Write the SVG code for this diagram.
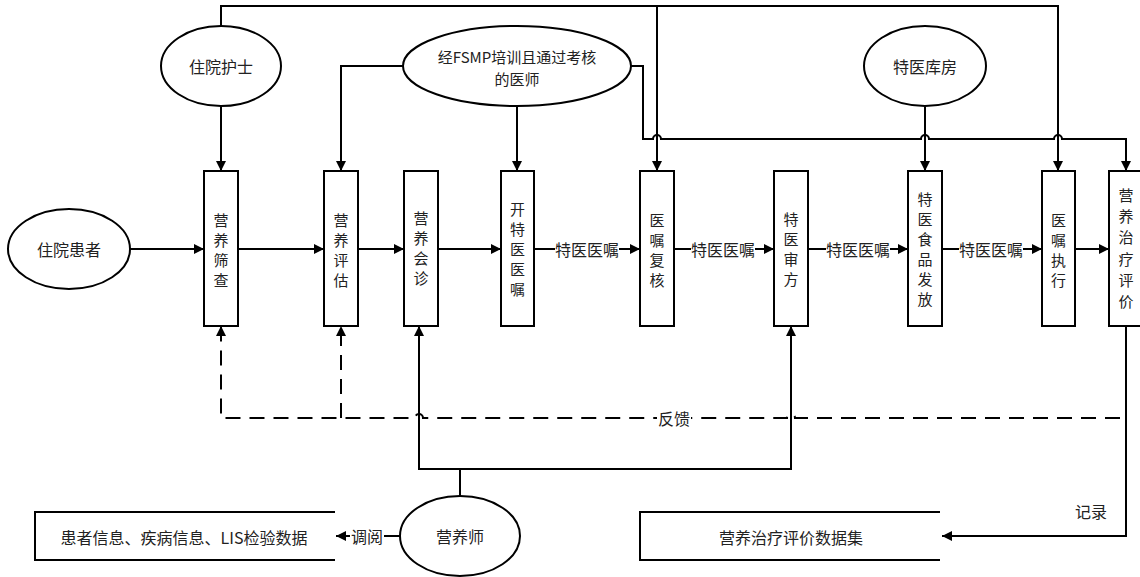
<svg xmlns="http://www.w3.org/2000/svg" width="1140" height="577" viewBox="0 0 1140 577">
<style>
.n{fill:#fff;stroke:#000;stroke-width:2}
.t{font-family:"Noto Sans CJK SC","Liberation Sans",sans-serif;font-size:16px;fill:#222;text-anchor:middle;dominant-baseline:central}
.v{font-size:15px}
.c{fill:none;stroke:#000;stroke-width:2}
.d{fill:none;stroke:#000;stroke-width:2;stroke-dasharray:15 9}
.lb{fill:#fff}
</style>
<defs>
<marker id="a" viewBox="0 0 10 10" refX="10" refY="5" markerWidth="11" markerHeight="10" markerUnits="userSpaceOnUse" orient="auto"><path d="M0,0 L10,5 L0,10 z" fill="#000"/></marker>
</defs>

<g id="connectors">
<path class="c" d="M130,249 H204" marker-end="url(#a)"/>
<path class="c" d="M238,249 H324" marker-end="url(#a)"/>
<path class="c" d="M358,249 H404" marker-end="url(#a)"/>
<path class="c" d="M438,249 H501" marker-end="url(#a)"/>
<path class="c" d="M534,249 H640" marker-end="url(#a)"/>
<path class="c" d="M674,249 H774" marker-end="url(#a)"/>
<path class="c" d="M808,249 H908" marker-end="url(#a)"/>
<path class="c" d="M942,249 H1042" marker-end="url(#a)"/>
<path class="c" d="M1075,249 H1109" marker-end="url(#a)"/>
<path class="c" d="M221,106 V171" marker-end="url(#a)"/>
<path class="c" d="M221,26 V6 H1058 V171" marker-end="url(#a)"/>
<path class="c" d="M657,6 V171" marker-end="url(#a)"/>
<path class="c" d="M403,66 H341 V171" marker-end="url(#a)"/>
<path class="c" d="M517,107 V171" marker-end="url(#a)"/>
<path class="c" d="M631,66 H643 V139 H653 A4,4 0 0 1 661,139 H921 A4,4 0 0 1 929,139 H1054 A4,4 0 0 1 1062,139 H1126 V171" marker-end="url(#a)"/>
<path class="c" d="M925,107 V171" marker-end="url(#a)"/>
<path class="d" d="M1120,418 H795 A4,4 0 0 0 787,418 H423 A4,4 0 0 0 415,418 H221 V326" marker-end="url(#a)"/>
<path class="d" d="M341,418 V326" marker-end="url(#a)"/>
<path class="c" d="M460,496 V469"/>
<path class="c" d="M460,469 H419 V326" marker-end="url(#a)"/>
<path class="c" d="M460,469 H791 V326" marker-end="url(#a)"/>
<path class="c" d="M400,536 H336" marker-end="url(#a)"/>
<path class="c" d="M1126,325 V536 H942" marker-end="url(#a)"/>
<rect class="lb" x="555" y="239" width="64" height="20"/>
<text class="t" x="587" y="249">特医医嘱</text>
<rect class="lb" x="691" y="239" width="64" height="20"/>
<text class="t" x="723" y="249">特医医嘱</text>
<rect class="lb" x="826" y="239" width="64" height="20"/>
<text class="t" x="858" y="249">特医医嘱</text>
<rect class="lb" x="959" y="239" width="64" height="20"/>
<text class="t" x="991" y="249">特医医嘱</text>
<rect class="lb" x="350" y="526" width="34" height="20"/>
<text class="t" x="367" y="536">调阅</text>
<rect class="lb" x="657" y="408" width="34" height="20"/>
<text class="t" x="674" y="418">反馈</text>
<text class="t" x="1091" y="511">记录</text>
</g>

<g id="n-nurse"><ellipse class="n" cx="221" cy="66" rx="60" ry="40"/><text class="t" x="221" y="66">住院护士</text></g>
<g id="n-doctor"><ellipse class="n" cx="517" cy="66" rx="114" ry="40"/><text class="t v"><tspan x="517" y="55.5">经FSMP培训且通过考核</tspan><tspan x="517" y="77.5">的医师</tspan></text></g>
<g id="n-warehouse"><ellipse class="n" cx="925" cy="66" rx="61" ry="40"/><text class="t" x="925" y="66">特医库房</text></g>
<g id="n-patient"><ellipse class="n" cx="69" cy="249" rx="61" ry="40"/><text class="t" x="69" y="249">住院患者</text></g>
<g id="n-dietitian"><ellipse class="n" cx="460" cy="536" rx="60" ry="40"/><text class="t" x="460" y="536">营养师</text></g>

<g id="n-screen"><rect class="n" x="204" y="171" width="34" height="155"/><text class="t v"><tspan x="221" y="219">营</tspan><tspan x="221" y="239">养</tspan><tspan x="221" y="259">筛</tspan><tspan x="221" y="279">查</tspan></text></g>
<g id="n-assess"><rect class="n" x="324" y="171" width="34" height="155"/><text class="t v"><tspan x="341" y="219">营</tspan><tspan x="341" y="239">养</tspan><tspan x="341" y="259">评</tspan><tspan x="341" y="279">估</tspan></text></g>
<g id="n-consult"><rect class="n" x="404" y="171" width="34" height="155"/><text class="t v"><tspan x="421" y="217">营</tspan><tspan x="421" y="237">养</tspan><tspan x="421" y="257">会</tspan><tspan x="421" y="277">诊</tspan></text></g>
<g id="n-order"><rect class="n" x="501" y="171" width="33" height="155"/><text class="t v"><tspan x="517.5" y="208">开</tspan><tspan x="517.5" y="228">特</tspan><tspan x="517.5" y="248">医</tspan><tspan x="517.5" y="268">医</tspan><tspan x="517.5" y="288">嘱</tspan></text></g>
<g id="n-review"><rect class="n" x="640" y="171" width="34" height="155"/><text class="t v"><tspan x="657" y="219">医</tspan><tspan x="657" y="239">嘱</tspan><tspan x="657" y="259">复</tspan><tspan x="657" y="279">核</tspan></text></g>
<g id="n-pharm"><rect class="n" x="774" y="171" width="34" height="155"/><text class="t v"><tspan x="791" y="218">特</tspan><tspan x="791" y="238">医</tspan><tspan x="791" y="258">审</tspan><tspan x="791" y="278">方</tspan></text></g>
<g id="n-dispense"><rect class="n" x="908" y="171" width="34" height="155"/><text class="t v"><tspan x="925" y="198">特</tspan><tspan x="925" y="218">医</tspan><tspan x="925" y="238">食</tspan><tspan x="925" y="258">品</tspan><tspan x="925" y="278">发</tspan><tspan x="925" y="298">放</tspan></text></g>
<g id="n-exec"><rect class="n" x="1042" y="171" width="33" height="155"/><text class="t v"><tspan x="1058.5" y="219">医</tspan><tspan x="1058.5" y="239">嘱</tspan><tspan x="1058.5" y="259">执</tspan><tspan x="1058.5" y="279">行</tspan></text></g>
<g id="n-eval"><rect class="n" x="1109" y="171" width="34" height="155"/><text class="t v"><tspan x="1126" y="194">营</tspan><tspan x="1126" y="215">养</tspan><tspan x="1126" y="236">治</tspan><tspan x="1126" y="258">疗</tspan><tspan x="1126" y="279">评</tspan><tspan x="1126" y="300">价</tspan></text></g>

<g id="n-store1"><path class="c" d="M335,512 H35 V560 H335"/><text class="t" x="184" y="537">患者信息、疾病信息、LIS检验数据</text></g>
<g id="n-store2"><path class="c" d="M940,512 H640 V560 H940"/><text class="t" x="791" y="537">营养治疗评价数据集</text></g>
</svg>
